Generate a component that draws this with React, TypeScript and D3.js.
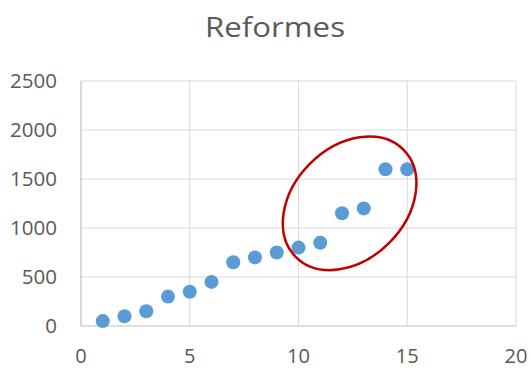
import React from "react";
import * as d3 from "d3";

// Scatter data: reform counts per index
const xValues = [1, 2, 3, 4, 5, 6, 7, 8, 9, 10, 11, 12, 13, 14, 15];
const yValues = [50, 100, 150, 300, 350, 450, 650, 700, 750, 800, 850, 1150, 1200, 1600, 1600];
const xTicks = [0, 5, 10, 15, 20];
const yTicks = [0, 500, 1000, 1500, 2000, 2500];
const title = "Reformes";

// Highlight ellipse around the upper cluster (centre in data units)
const highlightCenter = { x: 12.35, y: 1252 };

const W = 531;
const H = 368;
const margin = { left: 81, right: 15, top: 81, bottom: 42 };

export default function App() {
  const x = d3.scaleLinear().domain([0, 20]).range([margin.left, W - margin.right]);
  const y = d3.scaleLinear().domain([0, 2500]).range([H - margin.bottom, margin.top]);
  const font = "'Open Sans', 'Liberation Sans', sans-serif";
  const textColor = "#595959";
  const points = xValues.map((v, i) => ({ x: v, y: yValues[i] }));

  return (
    <svg
      width={W}
      height={H}
      style={{ position: "absolute", left: 0, top: 0, background: "#fff" }}
    >
      <text
        x={275}
        y={37}
        textAnchor="middle"
        fontFamily={font}
        fontSize={28}
        fill={textColor}
        textLength={140}
        lengthAdjust="spacingAndGlyphs"
      >
        {title}
      </text>

      {/* gridlines */}
      {yTicks.filter((t) => t > 0).map((t) => (
        <line key={"gy" + t} x1={x(0)} x2={x(20)} y1={y(t)} y2={y(t)} stroke="#D9D9D9" strokeWidth={1} />
      ))}
      {xTicks.filter((t) => t > 0).map((t) => (
        <line key={"gx" + t} x1={x(t)} x2={x(t)} y1={y(0)} y2={y(2500)} stroke="#D9D9D9" strokeWidth={1} />
      ))}
      {/* axes */}
      <line x1={x(0)} x2={x(20)} y1={y(0)} y2={y(0)} stroke="#BFBFBF" strokeWidth={1.2} />
      <line x1={x(0)} x2={x(0)} y1={y(0)} y2={y(2500)} stroke="#BFBFBF" strokeWidth={1.2} />

      {/* tick labels */}
      {yTicks.map((t) => (
        <text
          key={"ly" + t}
          x={57}
          y={y(t)}
          dy="0.36em"
          textAnchor="end"
          fontFamily={font}
          fontSize={20.5}
          fill={textColor}
        >
          {t}
        </text>
      ))}
      {xTicks.map((t) => (
        <text
          key={"lx" + t}
          x={x(t)}
          y={362.5}
          textAnchor="middle"
          fontFamily={font}
          fontSize={20}
          fill={textColor}
        >
          {t}
        </text>
      ))}

      {/* points */}
      {points.map((p, i) => (
        <circle key={i} cx={x(p.x)} cy={y(p.y)} r={7} fill="#5B9BD5" />
      ))}

      {/* highlight ellipse */}
      <ellipse
        cx={0}
        cy={0}
        rx={76}
        ry={56}
        transform={`translate(${x(highlightCenter.x)},${y(highlightCenter.y)}) rotate(-45)`}
        fill="none"
        stroke="#C00000"
        strokeWidth={2.5}
      />
    </svg>
  );
}
